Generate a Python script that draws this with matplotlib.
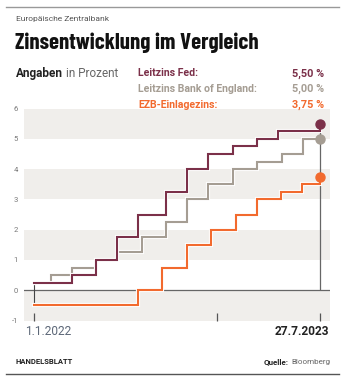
"""Zinsentwicklung im Vergleich - Fed, BoE, EZB (Handelsblatt style)."""

import matplotlib

matplotlib.use("Agg")
import matplotlib.patheffects as pe
import matplotlib.pyplot as plt
import pandas as pd
from matplotlib.lines import Line2D

# --- data -----------------------------------------------------------------
fed_dates = ["2022-01-01", "2022-03-17", "2022-05-05", "2022-06-16", "2022-07-28",
             "2022-09-22", "2022-11-03", "2022-12-15", "2023-02-02", "2023-03-23",
             "2023-05-04", "2023-07-27"]
fed_rates = [0.25, 0.50, 1.00, 1.75, 2.50, 3.25, 4.00, 4.50, 4.75, 5.00, 5.25, 5.50]

boe_dates = ["2022-01-01", "2022-02-03", "2022-03-17", "2022-05-05", "2022-06-16",
             "2022-08-04", "2022-09-22", "2022-11-03", "2022-12-15", "2023-02-02",
             "2023-03-23", "2023-05-11", "2023-06-22", "2023-07-27"]
boe_rates = [0.25, 0.50, 0.75, 1.00, 1.25, 1.75, 2.25, 3.00, 3.50, 4.00, 4.25, 4.50,
             5.00, 5.00]

ecb_dates = ["2022-01-01", "2022-07-27", "2022-09-14", "2022-11-02", "2022-12-21",
             "2023-02-08", "2023-03-22", "2023-05-10", "2023-06-21", "2023-07-27"]
ecb_rates = [-0.50, 0.00, 0.75, 1.50, 2.00, 2.50, 3.00, 3.25, 3.50, 3.75]

legend_labels = ["Leitzins Fed:", "Leitzins Bank of England:", "EZB-Einlagezins:"]
legend_values = ["5,50 %", "5,00 %", "3,75 %"]
x_ticks = ["2022-01-01", "2023-01-01", "2023-07-27"]
y_ticks = [-1, 0, 1, 2, 3, 4, 5, 6]

# --- style ----------------------------------------------------------------
FED = "#7b3049"
BOE = "#a59d93"
ECB = "#f26a2e"
BAND = "#f0eeeb"
DARK = "#222222"
GREY = "#666666"
FONT = ["Roboto", "DejaVu Sans"]
TITLE_FONT = ["Barlow Condensed", "Roboto Condensed", "DejaVu Sans"]

W, H = 347, 381
fig = plt.figure(figsize=(W / 100, H / 100), dpi=100)


def fx(px):
    return px / W


def fy(py):
    return 1 - py / H


ax = fig.add_axes([fx(24), fy(320.5), fx(330) - fx(24), fy(108.5) - fy(320.5)])

start = pd.Timestamp(x_ticks[0])
end = pd.Timestamp(x_ticks[-1])
pad_days = pd.Timedelta(days=20)
ax.set_xlim(start - pad_days, end + pad_days)
ax.set_ylim(-1, 6)

# alternating bands
for lo in range(-1, 6, 2):
    ax.axhspan(lo, lo + 1, color=BAND, lw=0, zorder=0)

ax.axhline(0, color=GREY, lw=0.9, zorder=1)
ax.vlines(start, -0.5, 0.25, color="#444444", lw=0.8, zorder=1)
ax.vlines(end, 0, 5.5, color=GREY, lw=0.9, zorder=1)

stroke = [pe.Stroke(linewidth=3.0, foreground="white"), pe.Normal()]
for dates, rates, color in [(ecb_dates, ecb_rates, ECB),
                            (boe_dates, boe_rates, BOE),
                            (fed_dates, fed_rates, FED)]:
    d = pd.to_datetime(dates)
    ax.step(d, rates, where="post", color=color, lw=1.5, zorder=3,
            path_effects=stroke, solid_joinstyle="miter")
    ax.plot(d[-1], rates[-1], "o", ms=6.5, color=color, mec=color, zorder=4)

for s in ax.spines.values():
    s.set_visible(False)

ax.set_yticks(y_ticks)
ax.set_yticklabels([str(v) for v in y_ticks], fontsize=5.5, color="#777777",
                   family=FONT)
ax.tick_params(axis="y", length=0, pad=4.5)
ax.set_xticks(pd.to_datetime(x_ticks))
ax.set_xticklabels([])
ax.tick_params(axis="x", direction="in", length=6, width=0.9, color="#555555")

# x labels
ax.annotate("1.1.2022", xy=(0, 0), xycoords="axes fraction", xytext=(0.8, -7.8),
            textcoords="offset points", ha="left", va="center", fontsize=8.6,
            color="#5d6878", family=FONT)
ax.annotate("27.7.2023", xy=(1, 0), xycoords="axes fraction", xytext=(-0.5, -7.8),
            textcoords="offset points", ha="right", va="center", fontsize=8.6,
            fontweight="bold", color=DARK, family=FONT)

# --- header ---------------------------------------------------------------
fig.add_artist(Line2D([fx(6), fx(339)], [fy(7), fy(7)], color="#999999", lw=1.0))
fig.add_artist(Line2D([fx(6), fx(339)], [fy(374), fy(374)], color="#555555", lw=1.0))

fig.text(fx(16), fy(19.5), "Europäische Zentralbank", fontsize=6.0, color="#555555",
         va="center", family=FONT)
title = fig.text(fx(15), fy(42.5), "Zinsentwicklung im Vergleich", fontsize=20,
                 fontweight="bold", color="#111111", va="center", family=TITLE_FONT)
fig.canvas.draw()
tw = title.get_window_extent().width
title.set_fontsize(min(22, 20 * 243 / tw))

t = fig.text(fx(16), fy(73.5), "Angaben", fontsize=8.5, fontweight="bold",
             color=DARK, va="center", family=FONT)
fig.canvas.draw()
bb = t.get_window_extent()
fig.text(fx(bb.x1 + 3), fy(73.5), "in Prozent", fontsize=8.5, color="#666666",
         va="center", family=FONT)

for i, (lab, val, col) in enumerate(zip(legend_labels, legend_values, [FED, BOE, ECB])):
    yy = 73.5 + i * 15.5
    fig.text(fx(138), fy(yy), lab, fontsize=7.6, fontweight="bold", color=col,
             va="center", family=FONT)
    fig.text(fx(324), fy(yy), val, fontsize=7.8, fontweight="bold", color=col,
             va="center", ha="right", family=FONT)

# --- footer ---------------------------------------------------------------
fig.text(fx(16), fy(362), "HANDELSBLATT", fontsize=5.5, fontweight="bold",
         color=DARK, va="center", family=FONT)
q = fig.text(fx(330), fy(362), "Bloomberg", fontsize=5.8, color="#666666",
             va="center", ha="right", family=FONT)
fig.canvas.draw()
qb = q.get_window_extent()
fig.text(fx(qb.x0 - 2), fy(362), "Quelle:", fontsize=5.8, fontweight="bold",
         color=DARK, va="center", ha="right", family=FONT)

fig.savefig("out.png", dpi=100)
